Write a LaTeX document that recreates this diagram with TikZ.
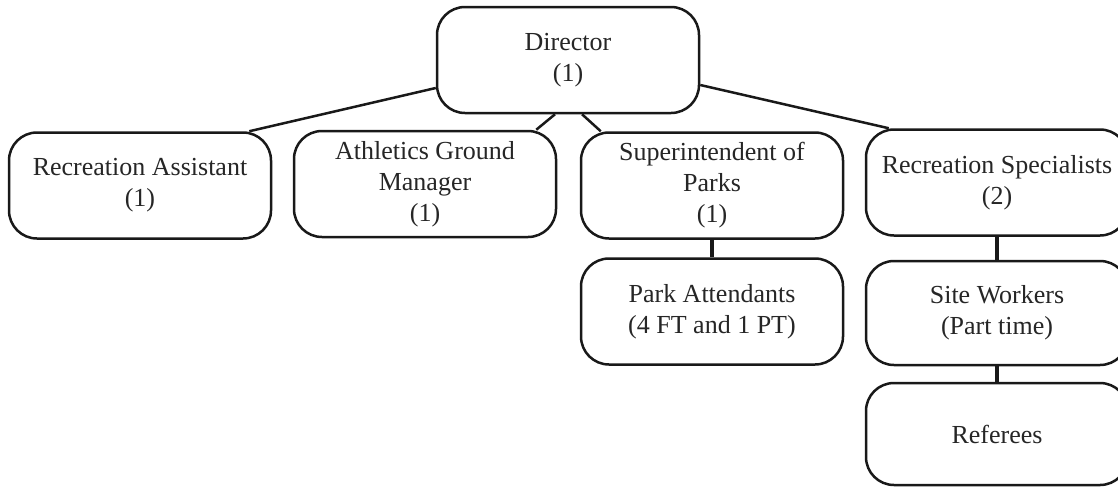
\documentclass[tikz,border=0pt]{standalone}
\usepackage{fontspec}
\setmainfont{Liberation Serif}
\usetikzlibrary{calc}
\tikzset{
  box/.style={draw=black!90, line width=2.5pt, rounded corners=28pt, fill=white,
    minimum width=262pt, minimum height=106pt, align=center, inner sep=0pt,
    font=\fontsize{26}{31}\selectfont, text=black!85},
  link/.style={draw=black!90, line width=2.5pt},
  vlink/.style={draw=black!90, line width=3.2pt}
}
\begin{document}
\begin{tikzpicture}[x=1pt,y=-1pt]
\useasboundingbox (0,0) rectangle (1118,488);
\clip (0,0) rectangle (1118,488);
\node[box] (dir) at (568,60) {Director\\(1)};
\node[box] (ra) at (140,185.5) {Recreation Assistant\\(1)};
\node[box] (ag) at (425,184) {Athletics Ground\\Manager\\(1)};
\node[box] (sp) at (712,185.5) {Superintendent of\\Parks\\(1)};
\node[box] (rs) at (997,182.5) {Recreation Specialists\\(2)};
\node[box] (pa) at (712,311.5) {Park Attendants\\(4 FT and 1 PT)};
\node[box, minimum height=104pt] (sw) at (997,313) {Site Workers\\(Part time)};
\node[box, minimum height=102pt] (ref) at (997,434) {Referees};
\draw[link] ([yshift=-28pt]dir.west) -- ([xshift=-23pt]ra.north east);
\draw[link] ([xshift=-13pt]dir.south) -- ([xshift=-21pt]ag.north east);
\draw[link] ([xshift=14pt]dir.south) -- ([xshift=21pt]sp.north west);
\draw[link] ([yshift=-25pt]dir.east) -- ([xshift=24pt]rs.north west);
\draw[vlink] (sp.south) -- (pa.north);
\draw[vlink] (rs.south) -- (sw.north);
\draw[vlink] (sw.south) -- (ref.north);
\end{tikzpicture}
\end{document}
